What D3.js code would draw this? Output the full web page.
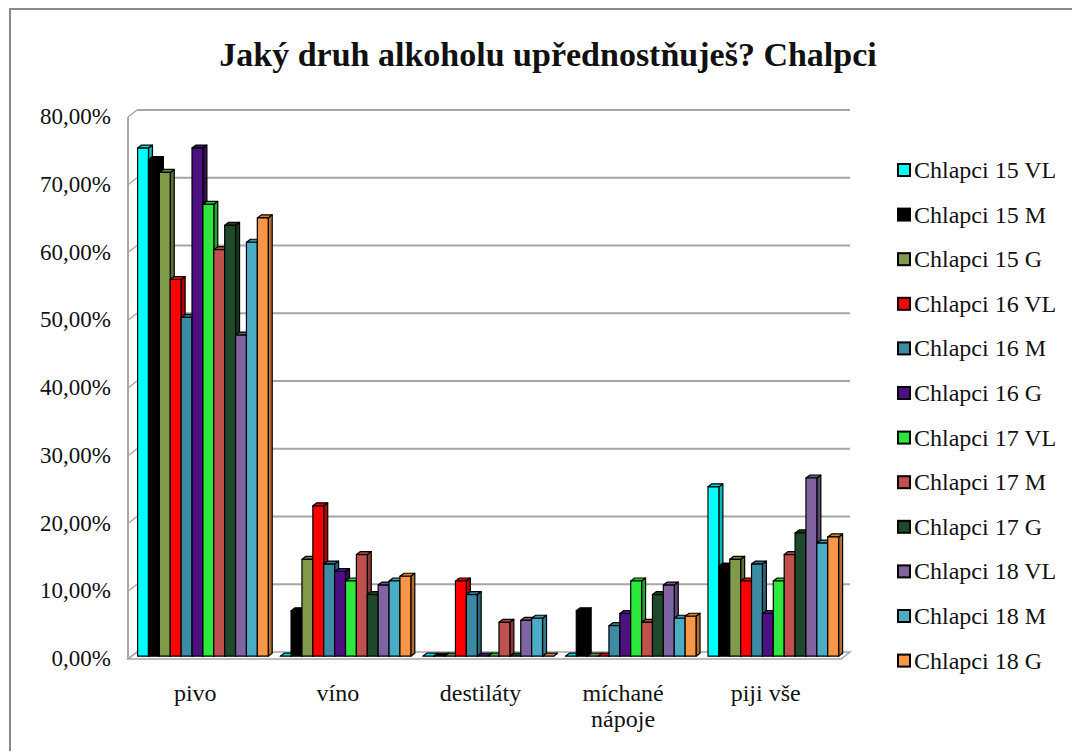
<!DOCTYPE html>
<html>
<head>
<meta charset="utf-8">
<script src="https://cdn.jsdelivr.net/npm/d3@7"></script>
<style>
  html, body { margin: 0; padding: 0; background: #fff; }
</style>
</head>
<body>
<svg id="chart" width="1072" height="751" font-family="'Liberation Serif', 'Times New Roman', serif"></svg>
<script>
// ---- data (percent) ----
const categories = ['pivo', 'víno', 'destiláty', 'míchané nápoje', 'piji vše'];
const series = [
  'Chlapci 15 VL', 'Chlapci 15 M', 'Chlapci 15 G',
  'Chlapci 16 VL', 'Chlapci 16 M', 'Chlapci 16 G',
  'Chlapci 17 VL', 'Chlapci 17 M', 'Chlapci 17 G',
  'Chlapci 18 VL', 'Chlapci 18 M', 'Chlapci 18 G'
];
// one array per series, values for the 5 categories
const values = [
  [75.0, 0.0, 0.0, 0.0, 25.0],    // 15 VL
  [73.3, 6.7, 0.0, 6.7, 13.3],    // 15 M
  [71.4, 14.3, 0.0, 0.0, 14.3],   // 15 G
  [55.6, 22.2, 11.1, 0.0, 11.1],  // 16 VL
  [50.0, 13.6, 9.1, 4.5, 13.6],   // 16 M
  [75.0, 12.5, 0.0, 6.3, 6.3],    // 16 G
  [66.7, 11.1, 0.0, 11.1, 11.1],  // 17 VL
  [60.0, 15.0, 5.0, 5.0, 15.0],   // 17 M
  [63.6, 9.1, 0.0, 9.1, 18.2],    // 17 G
  [47.4, 10.5, 5.3, 10.5, 26.3],  // 18 VL
  [61.1, 11.1, 5.6, 5.6, 16.7],   // 18 M
  [64.7, 11.8, 0.0, 5.9, 17.6]    // 18 G
];
const colors = [
  '#00ffff', '#000000', '#7f9a48',
  '#ff0000', '#3b8ba4', '#4b1180',
  '#2ce83c', '#c0504d', '#1e4a2b',
  '#8064a2', '#4bacc6', '#f79646'
];
const yTicks = [0, 10, 20, 30, 40, 50, 60, 70, 80];

// ---- layout ----
const svg = d3.select('#chart');
const DX = 9, DY = 7;          // depth of the 3D box
const front = { x0: 128, x1: 841, y0: 659, y1: 117 };

// outer frame
svg.append('rect')
  .attr('x', 10).attr('y', 9)
  .attr('width', 1100).attr('height', 800)
  .attr('fill', 'none').attr('stroke', '#8a8a8a').attr('stroke-width', 2);

svg.append('text')
  .attr('x', 548).attr('y', 66)
  .attr('text-anchor', 'middle')
  .style('font-weight', 'bold').style('font-size', '34px')
  .attr('fill', '#111')
  .text('Jaký druh alkoholu upřednostňuješ? Chalpci');

const y = d3.scaleLinear().domain([0, 80]).range([front.y0, front.y1]);
const x0 = d3.scaleBand().domain(categories).range([front.x0, front.x1]);
const x1 = d3.scaleBand().domain(series).range([0, x0.bandwidth()]).paddingOuter(0.55);

// floor
svg.append('polygon')
  .attr('points', [[front.x0, front.y0], [front.x1, front.y0], [front.x1 + DX, front.y0 - DY], [front.x0 + DX, front.y0 - DY]].join(' '))
  .attr('fill', '#fff').attr('stroke', '#a6a6a6').attr('stroke-width', 1.5);

// back-wall gridlines
const grid = svg.append('g');
yTicks.filter(t => t > 0).forEach(t => {
  grid.append('line')
    .attr('x1', front.x0 + DX).attr('x2', front.x1 + DX)
    .attr('y1', y(t) - DY).attr('y2', y(t) - DY)
    .attr('stroke', '#a6a6a6').attr('stroke-width', 2);
});

// front value axis with slanted ticks
const axis = svg.append('g');
axis.append('line')
  .attr('x1', front.x0).attr('x2', front.x0)
  .attr('y1', y(0)).attr('y2', y(80))
  .attr('stroke', '#a6a6a6').attr('stroke-width', 2);
yTicks.forEach(t => {
  axis.append('line')
    .attr('x1', front.x0).attr('y1', y(t))
    .attr('x2', front.x0 + DX).attr('y2', y(t) - DY)
    .attr('stroke', '#a6a6a6').attr('stroke-width', 1.5);
  axis.append('text')
    .attr('x', 111).attr('y', y(t) + 7)
    .attr('text-anchor', 'end')
    .style('font-size', '23px')
    .attr('fill', '#111')
    .text(t.toFixed(2).replace('.', ',') + '%');
});

// ---- 3D bars ----
const bd = 0.4;                // depth position of the bar front
const bdx = 4, bdy = 3;        // bar depth
const bars = svg.append('g');
categories.forEach((cat, ci) => {
  series.forEach((s, si) => {
    const v = values[si][ci];
    const w = x1.bandwidth();
    const bx = x0(cat) + x1(s) + DX * bd;
    const yb = y(0) - DY * bd;
    const yt = y(v) - DY * bd;
    const c = d3.color(colors[si]);
    const side = si === 1 ? '#000' : c.darker(0.9);
    const top = si === 1 ? '#000' : c.darker(0.4);
    const g = bars.append('g')
      .attr('stroke', '#000').attr('stroke-width', 1.2).attr('stroke-linejoin', 'round');
    g.append('polygon')
      .attr('points', [[bx + w, yt], [bx + w + bdx, yt - bdy], [bx + w + bdx, yb - bdy], [bx + w, yb]].join(' '))
      .attr('fill', side);
    g.append('polygon')
      .attr('points', [[bx, yt], [bx + bdx, yt - bdy], [bx + w + bdx, yt - bdy], [bx + w, yt]].join(' '))
      .attr('fill', top);
    if (v > 0) {
      g.append('rect')
        .attr('x', bx).attr('y', yt)
        .attr('width', w).attr('height', yb - yt)
        .attr('fill', colors[si]);
    }
  });
});

// category labels
categories.forEach(cat => {
  const words = cat === 'míchané nápoje' ? ['míchané', 'nápoje'] : [cat];
  const t = svg.append('text')
    .attr('text-anchor', 'middle')
    .style('font-size', '24px')
    .attr('fill', '#111');
  words.forEach((wd, i) => {
    t.append('tspan')
      .attr('x', x0(cat) + x0.bandwidth() / 2 - 4)
      .attr('y', 701 + i * 26)
      .text(wd);
  });
});

// legend
const legend = svg.append('g');
series.forEach((s, i) => {
  const ly = 170 + i * 44.6;
  legend.append('rect')
    .attr('x', 898).attr('y', ly - 6)
    .attr('width', 12).attr('height', 12)
    .attr('fill', colors[i]).attr('stroke', '#000').attr('stroke-width', 2);
  legend.append('text')
    .attr('x', 914).attr('y', ly + 8)
    .style('font-size', '24px')
    .attr('fill', '#111')
    .text(s);
});
</script>
</body>
</html>
